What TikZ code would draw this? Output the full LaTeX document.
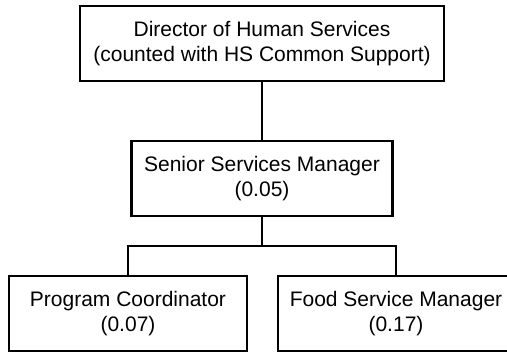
\documentclass[tikz,border=0pt]{standalone}
\usepackage{fontspec}
\setmainfont{Liberation Sans}
\newlength{\hdist}
\newlength{\vdist}
\newlength{\busdist}
\usepackage{tikz}
\usetikzlibrary{positioning}
\tikzstyle{unit}=[draw, rectangle, line width=1.6pt, minimum height=56.25pt, align=center, inner sep=0pt, font=\fontsize{15.75}{18.5}\selectfont]

\begin{document}
\begin{tikzpicture}[x=0.75pt, y=-0.75pt, line width=1.6pt]

	\setlength{\vdist}{43.4pt}
	\setlength{\hdist}{100.5pt}
	\setlength{\busdist}{21.7pt}

	\useasboundingbox (0,0) rectangle (507,351);
	\clip (0,0) rectangle (507,351);

	\node (dir) [unit, minimum width=273pt] at (262,43.5) {Director of Human Services\\(counted with HS Common Support)};
	\node (mgr) [unit, minimum width=195.75pt, below=\vdist of dir] {Senior Services Manager\\(0.05)};
	\node (prog) [unit, minimum width=178.5pt, below=\vdist of mgr, xshift=-\hdist] {Program Coordinator\\(0.07)};
	\node (food) [unit, minimum width=177pt, below=\vdist of mgr, xshift=\hdist] {Food Service Manager\\(0.17)};

	\coordinate [below=\busdist of mgr] (bus);

	\draw (dir) -- (mgr);
	\draw (mgr) -- (bus) -| (prog);
	\draw (bus) -| (food);
\end{tikzpicture}
\end{document}
